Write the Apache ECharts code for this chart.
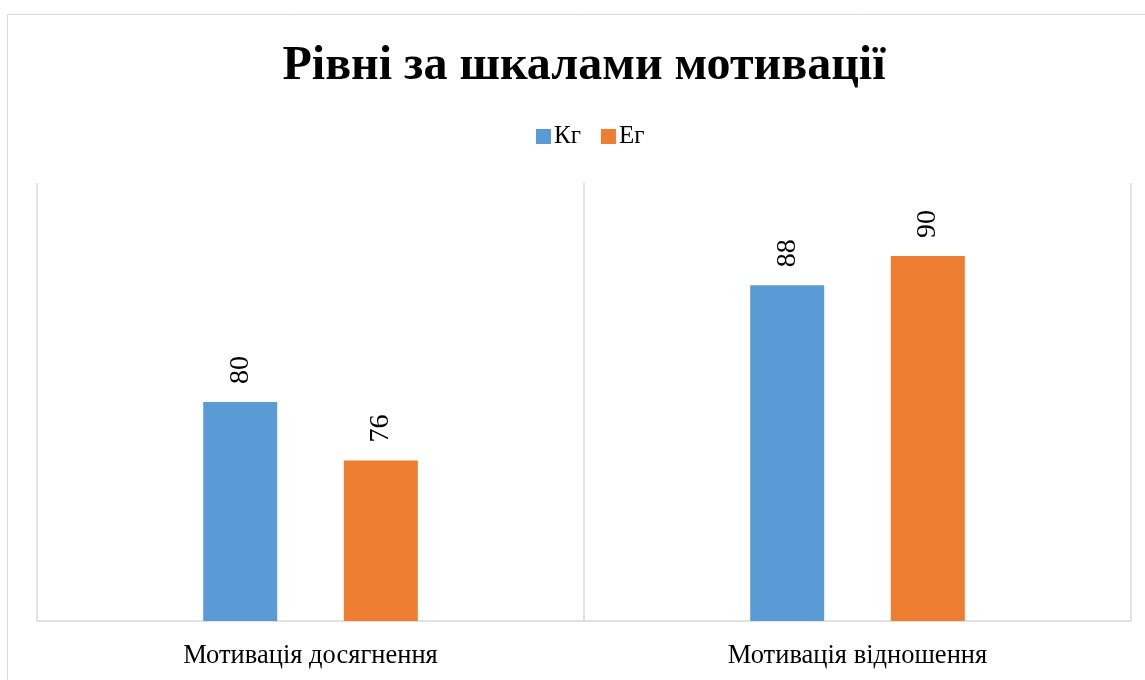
<!DOCTYPE html>
<html>
<head>
<meta charset="utf-8">
<script src="https://cdn.jsdelivr.net/npm/echarts@6/dist/echarts.min.js"></script>
<style>
  html, body { margin: 0; padding: 0; background: #fff; }
  #chart { width: 1145px; height: 680px; }
</style>
</head>
<body>
<div id="chart"></div>
<script>
// Levels on the motivation scales, two groups
const categories = ['Мотивація досягнення', 'Мотивація відношення'];
const seriesNames = ['Кг', 'Ег'];
const valuesKg = [80, 88];
const valuesEg = [76, 90];
const colors = ['#5B9BD5', '#ED7D31'];

const serif = '"Liberation Serif", "DejaVu Serif", serif';
const chart = echarts.init(document.getElementById('chart'));

function barSeries(name, data, color) {
  return {
    name: name,
    type: 'bar',
    data: data,
    barWidth: 74,
    barGap: '90%',
    itemStyle: { color: color },
    label: {
      show: true,
      position: 'top',
      rotate: 90,
      align: 'left',
      verticalAlign: 'middle',
      distance: 18,
      fontFamily: serif,
      fontSize: 28,
      color: '#000'
    }
  };
}

chart.setOption({
  animation: false,
  title: {
    text: 'Рівні за шкалами мотивації',
    left: 579,
    top: 38,
    textAlign: 'center',
    textStyle: { fontFamily: serif, fontWeight: 'bold', fontSize: 48, color: '#000' }
  },
  legend: {
    data: seriesNames,
    left: 531,
    top: 119,
    icon: 'rect',
    itemWidth: 15,
    itemHeight: 15,
    itemGap: 20,
    textStyle: { fontFamily: serif, fontSize: 25, color: '#000', padding: [0, 0, 0, -2] }
  },
  grid: { left: 37, right: 14, top: 183, bottom: 59 },
  xAxis: {
    type: 'category',
    data: categories,
    axisLine: { lineStyle: { color: '#d9d9d9', width: 1.5 } },
    axisTick: { show: false },
    splitLine: { show: true, lineStyle: { color: '#d9d9d9', width: 1.5 } },
    axisLabel: { fontFamily: serif, fontSize: 26.5, color: '#000', margin: 22 }
  },
  yAxis: {
    type: 'value',
    min: 65,
    max: 95,
    show: false
  },
  graphic: [{
    type: 'rect',
    shape: { x: 7.5, y: 14.5, width: 1200, height: 700 },
    style: { fill: 'none', stroke: '#d9d9d9', lineWidth: 1 },
    silent: true,
    z: -1
  }],
  series: [
    barSeries(seriesNames[0], valuesKg, colors[0]),
    barSeries(seriesNames[1], valuesEg, colors[1])
  ]
});
</script>
</body>
</html>
